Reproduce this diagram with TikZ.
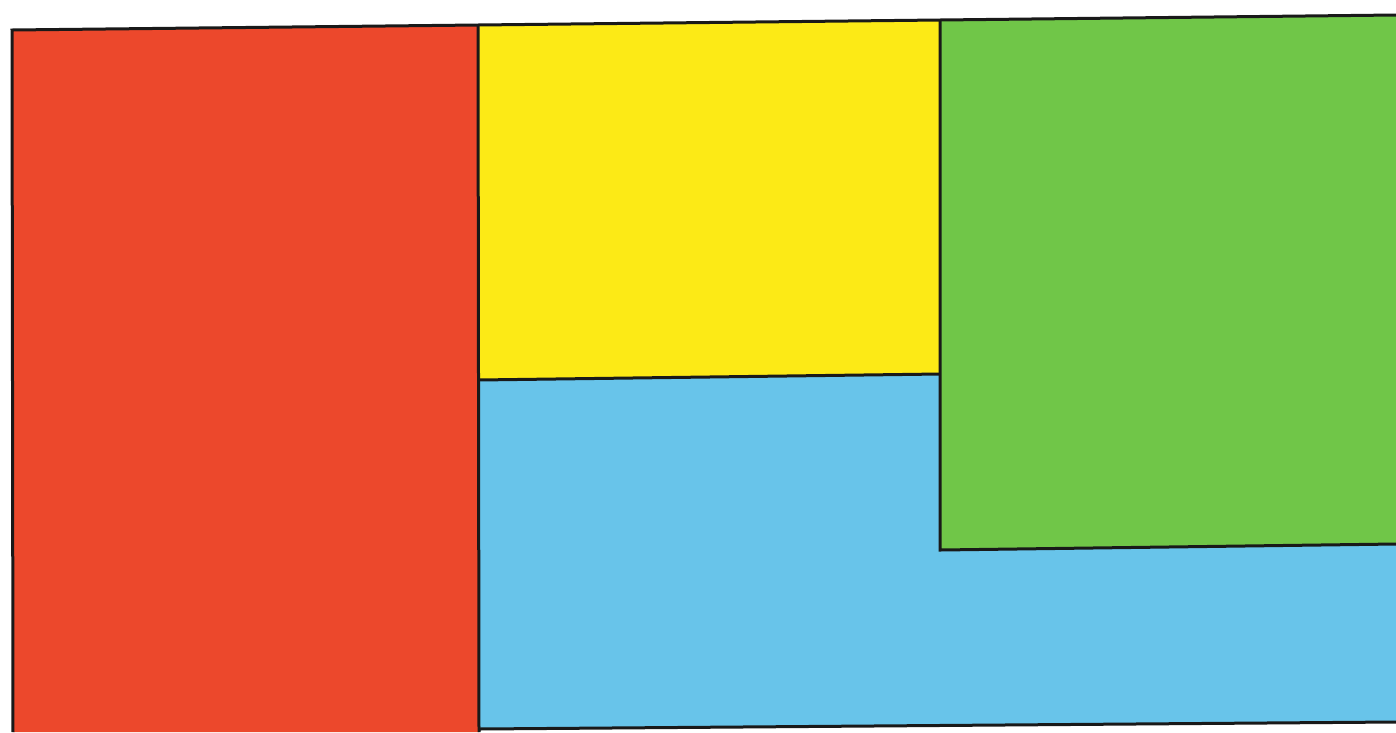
\documentclass[tikz,border=0pt]{standalone}
\definecolor{cred}{RGB}{236,72,44}
\definecolor{cyel}{RGB}{252,234,22}
\definecolor{cgrn}{RGB}{112,198,72}
\definecolor{cblu}{RGB}{104,196,234}
\tikzset{edge/.style={draw=black!90,line width=3pt,line join=miter}}
\begin{document}
\begin{tikzpicture}[x=1pt,y=-1pt]
\useasboundingbox (0,0) rectangle (1396,732);
\fill[white] (0,0) rectangle (1396,732);
% corners
\coordinate (tl) at (12,30);
\coordinate (tr1) at (478,25);
\coordinate (tg) at (940,20);
\coordinate (tr) at (1396,15);
\coordinate (ym) at (478,380);
\coordinate (yg) at (940,374);
\coordinate (gb) at (940,550);
\coordinate (gr) at (1396,544);
\coordinate (bl) at (13,732);
\coordinate (bm) at (479,732);
\coordinate (bb) at (479,729);
\coordinate (br) at (1396,722);
% fills
\fill[cred] (tl) -- (tr1) -- (bm) -- (bl) -- cycle;
\fill[cyel] (tr1) -- (tg) -- (yg) -- (ym) -- cycle;
\fill[cgrn] (tg) -- (tr) -- (gr) -- (gb) -- cycle;
\fill[cblu] (ym) -- (yg) -- (gb) -- (gr) -- (br) -- (bb) -- cycle;
% outlines
\draw[edge] (bl) -- (tl) -- (tr1) -- (tg) -- (tr);
\draw[edge] (tr1) -- (bm);
\draw[edge] (ym) -- (yg);
\draw[edge] (tg) -- (gb) -- (gr);
\draw[edge] (bb) -- (br);
\end{tikzpicture}
\end{document}
